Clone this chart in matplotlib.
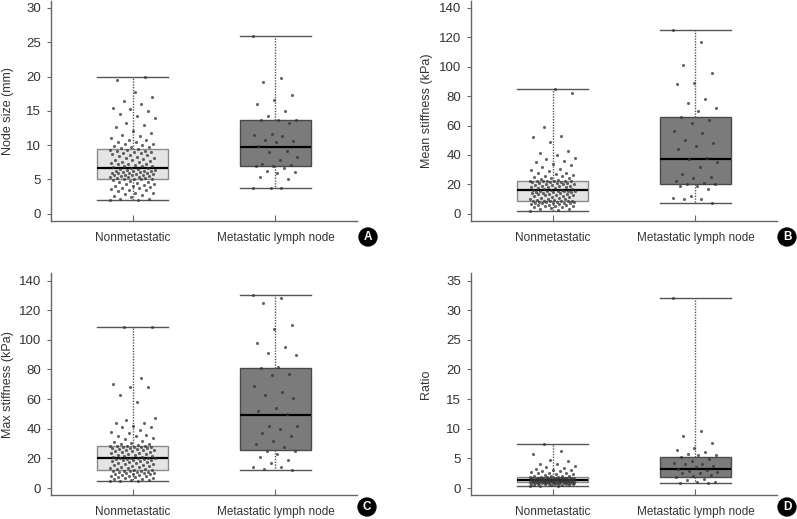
import matplotlib
matplotlib.use("Agg")
import matplotlib.pyplot as plt

plt.rcParams['font.family'] = ['Liberation Sans', 'DejaVu Sans']

categories = ["Nonmetastatic", "Metastatic lymph node"]
panel_letters = ["A", "B", "C", "D"]
ylabels = ["Node size (mm)", "Mean stiffness (kPa)", "Max stiffness (kPa)", "Ratio"]
yticks = [[0, 5, 10, 15, 20, 25, 30], [0, 20, 40, 60, 80, 100, 120, 140],
          [0, 20, 40, 60, 80, 100, 120, 140], [0, 5, 10, 15, 20, 25, 30, 35]]

# box statistics [whislo, q1, med, q3, whishi]
size_stats = [[2.0, 5.1, 6.7, 9.4, 20.0], [3.7, 6.9, 9.7, 13.6, 25.9]]
mean_stats = [[2.0, 9.0, 16.0, 22.5, 85.0], [7.0, 20.0, 37.5, 66.0, 125.0]]
max_stats = [[4.5, 12.0, 20.5, 28.5, 108.5], [12.0, 25.5, 49.0, 81.0, 130.0]]
ratio_stats = [[0.3, 1.0, 1.4, 1.8, 7.4], [0.8, 1.8, 3.2, 5.3, 32.0]]

# individual points
size_non = [2.0, 2.0, 2.1, 2.2, 2.4, 2.6, 2.8, 2.9, 3.0, 3.1, 3.3, 3.4, 3.5, 3.6, 3.7, 3.8, 3.9, 4.0, 4.1, 4.2,
            4.3, 4.4, 4.5, 4.6, 4.7, 4.8, 4.9, 5.0, 5.0, 5.0,
            5.1, 5.2, 5.2, 5.3, 5.4, 5.4, 5.5, 5.5, 5.6, 5.6, 5.7, 5.7, 5.8, 5.8, 5.9, 5.9, 6.0, 6.0, 6.1, 6.1,
            6.2, 6.2, 6.3, 6.3, 6.4, 6.4, 6.5, 6.5, 6.6, 6.6,
            6.8, 6.9, 7.0, 7.0, 7.1, 7.2, 7.3, 7.3, 7.4, 7.5, 7.6, 7.7, 7.8, 7.9, 8.0, 8.1, 8.2, 8.3, 8.4, 8.5,
            8.6, 8.7, 8.8, 8.9, 9.0, 9.0, 9.1, 9.2, 9.3, 9.3,
            9.5, 9.6, 9.7, 9.8, 9.9, 10.0, 10.1, 10.2, 10.4, 10.5, 10.7, 10.8, 11.0, 11.3, 11.5, 11.8, 12.0,
            12.6, 13.0, 13.3, 14.0, 14.3, 14.5, 15.0, 15.2, 15.4, 16.0, 16.4, 17.0, 17.8, 19.5, 20.0]
size_met = [25.9, 19.8, 19.2, 17.3, 16.6, 16.0, 15.0, 14.2, 13.7, 13.7, 13.7, 13.2, 11.6, 11.5, 11.4, 10.7,
            10.6, 10.5, 9.9, 9.1, 9.0, 8.3, 7.8, 7.2, 7.1, 7.0, 6.9, 6.6, 6.2, 6.1, 6.0, 5.3, 5.0, 3.7, 3.7, 3.7]

mean_non = [2, 2.5, 3, 3.5, 4, 4.3, 4.6, 5, 5.2, 5.5, 5.8, 6, 6.2, 6.5, 6.7, 7, 7, 7.2, 7.4, 7.6, 7.8, 8, 8,
            8.2, 8.4, 8.5, 8.6, 8.7, 8.8, 8.9,
            9.2, 9.5, 9.8, 10, 10.3, 10.6, 11, 11.3, 11.6, 12, 12.2, 12.5, 12.8, 13, 13.2, 13.5, 13.7, 14,
            14.2, 14.4, 14.6, 14.8, 15, 15.2, 15.3, 15.5, 15.6, 15.7, 15.8, 15.9,
            16.2, 16.5, 16.8, 17, 17.3, 17.6, 18, 18.2, 18.5, 18.8, 19, 19.2, 19.5, 19.8, 20, 20.2, 20.5,
            20.7, 21, 21.2, 21.4, 21.6, 21.8, 22, 22, 22.2, 22.3, 22.4, 22.4, 22.5,
            23, 23.5, 24, 24.5, 25, 25.5, 26, 26.5, 27, 27.5, 28, 29, 30, 30.5, 32, 33, 34, 35, 36, 37, 38,
            40, 41, 43, 49, 52, 53, 59, 82, 85]
mean_met = [125, 117, 101, 96, 89, 88, 78, 75, 72, 70, 66, 64, 62, 56, 55, 50, 48, 46, 44, 38, 37, 35, 32,
            27, 25, 24, 22, 21, 20, 20, 19, 19, 17, 12, 11, 10, 10, 7]

max_non = [4.5, 4.8, 5, 5.3, 5.6, 6, 6.3, 6.6, 7, 7.2, 7.5, 7.8, 8, 8.3, 8.6, 9, 9.2, 9.5, 9.8, 10, 10.2,
           10.4, 10.6, 10.8, 11, 11.2, 11.4, 11.6, 11.8, 11.9,
           12.3, 12.6, 13, 13.3, 13.6, 14, 14.3, 14.6, 15, 15.3, 15.6, 16, 16.3, 16.6, 17, 17.3, 17.6, 18,
           18.3, 18.6, 19, 19.2, 19.4, 19.6, 19.8, 20, 20.1, 20.2, 20.3, 20.4,
           20.8, 21.1, 21.4, 21.8, 22.1, 22.4, 22.8, 23.1, 23.4, 23.8, 24.1, 24.4, 24.8, 25.1, 25.4, 25.8,
           26, 26.3, 26.6, 26.9, 27.1, 27.3, 27.5, 27.7, 27.9, 28, 28.1, 28.2, 28.3, 28.4,
           29, 29.5, 30, 30.5, 31, 32, 33, 34, 35, 35, 36, 37, 38, 39, 41, 41, 42, 44, 44, 46, 47, 58, 63,
           68, 68, 70, 74, 108.5, 108.5]
max_met = [130, 128, 125, 110, 107, 98, 95, 91, 90, 82, 81, 77, 76, 69, 65, 63, 61, 54, 52, 50, 42, 42, 40,
           37, 35, 32, 30, 28, 25, 25, 23, 21, 19, 17, 14, 14, 13, 12]

ratio_non = [0.3, 0.35, 0.4, 0.45, 0.5, 0.5, 0.55, 0.6, 0.6, 0.65, 0.65, 0.7, 0.7, 0.72, 0.75, 0.78, 0.8,
             0.8, 0.82, 0.85, 0.87, 0.88, 0.9, 0.9, 0.92, 0.94, 0.95, 0.96, 0.98, 0.99,
             1.01, 1.03, 1.05, 1.06, 1.08, 1.1, 1.11, 1.13, 1.15, 1.16, 1.18, 1.2, 1.21, 1.23, 1.25, 1.26,
             1.28, 1.3, 1.31, 1.32, 1.33, 1.34, 1.35, 1.36, 1.37, 1.37, 1.38, 1.38, 1.39, 1.39,
             1.41, 1.42, 1.44, 1.45, 1.47, 1.48, 1.5, 1.51, 1.53, 1.54, 1.56, 1.57, 1.59, 1.6, 1.62, 1.63,
             1.65, 1.66, 1.68, 1.69, 1.7, 1.71, 1.72, 1.73, 1.74, 1.75, 1.76, 1.77, 1.78, 1.79,
             1.85, 1.9, 1.95, 2.0, 2.05, 2.1, 2.2, 2.3, 2.4, 2.5, 2.5, 2.6, 2.7, 2.8, 2.9, 3.0, 3.1, 3.2,
             3.4, 3.6, 3.8, 4.0, 4.0, 4.6, 4.8, 5.8, 6.2, 7.4]
ratio_met = [32, 9.6, 8.7, 7.6, 6.8, 6.4, 6.0, 5.8, 5.6, 5.5, 5.3, 4.9, 4.6, 4.2, 4.1, 4.0, 3.8, 3.6, 3.2,
             3.0, 2.9, 2.7, 2.6, 2.5, 2.2, 2.0, 1.8, 1.6, 1.3, 1.1, 1.0, 0.9, 0.8]

panels = [
    (size_stats, size_non, size_met),
    (mean_stats, mean_non, mean_met),
    (max_stats, max_non, max_met),
    (ratio_stats, ratio_non, ratio_met),
]

W, H = 797, 519
fig = plt.figure(figsize=(W / 100, H / 100), dpi=100)

# axes rectangles in pixels: left, top, right, bottom
rects = [(51, 0.7, 357, 221), (471, 0.7, 777, 221), (51, 273.3, 357, 495.3), (471, 273.3, 777, 495.3)]
badge_pos = [(368, 237), (787, 237), (367, 507), (787, 507)]
ylabel_x = [8, 427, 8, 426]

text_col = "#333333"
spine_col = "#666666"
box_faces = ["#e4e4e4", "#7b7b7b"]
box_edges = ["#8a8a8a", "#4a4a4a"]


def jitter(i):
    return (((i * 0.6180339887) % 1.0) - 0.5) * 0.32


for k, (stats, non, met) in enumerate(panels):
    l, t, r, b = rects[k]
    ax = fig.add_axes([l / W, 1 - b / H, (r - l) / W, (b - t) / H])
    for j, (st, vals) in enumerate(zip(stats, [non, met])):
        pos = j + 1
        bstat = [dict(whislo=st[0], q1=st[1], med=st[2], q3=st[3], whishi=st[4], fliers=[])]
        ax.bxp(bstat, positions=[pos], widths=0.5, showfliers=False, patch_artist=True,
               boxprops=dict(facecolor=box_faces[j], edgecolor=box_edges[j], linewidth=1.0),
               medianprops=dict(color="black", linewidth=1.6),
               whiskerprops=dict(color="#555555", linewidth=1.0, linestyle=(0, (1.0, 1.0))),
               capprops=dict(color="#555555", linewidth=1.0),
               capwidths=0.5, zorder=1)
        xs = [pos + jitter(i) for i in range(len(vals))]
        ax.scatter(xs, vals, s=5, color="#333333", alpha=0.75, linewidths=0, zorder=3)
    ticks = yticks[k]
    rng = ticks[-1] - ticks[0]
    ax.set_ylim(ticks[0] - 0.035 * rng, ticks[-1] + 0.035 * rng)
    ax.set_xlim(0.43, 2.57)
    ax.set_yticks(ticks)
    ax.set_xticks([1, 2])
    ax.set_xticklabels(categories)
    for s in ["top", "right"]:
        ax.spines[s].set_visible(False)
    for s in ["left", "bottom"]:
        ax.spines[s].set_color(spine_col)
        ax.spines[s].set_linewidth(1.0)
    ax.tick_params(axis="y", direction="out", length=3, width=0.8, color=spine_col,
                   labelsize=9.5, labelcolor=text_col, pad=4)
    ax.tick_params(axis="x", direction="in", length=4, width=0.8, color=spine_col,
                   labelsize=8.5, labelcolor=text_col, pad=8)
    fig.text(ylabel_x[k] / W, 1 - ((t + b) / 2) / H, ylabels[k], rotation=90, ha="center", va="center",
             fontsize=9, color=text_col)
    bx, by = badge_pos[k]
    fig.text(bx / W, 1 - by / H, panel_letters[k], ha="center", va="center", color="white",
             fontsize=8.5, fontweight="bold",
             bbox=dict(boxstyle="circle,pad=0.25", facecolor="black", edgecolor="black"))

fig.savefig("out.png", dpi=100)
